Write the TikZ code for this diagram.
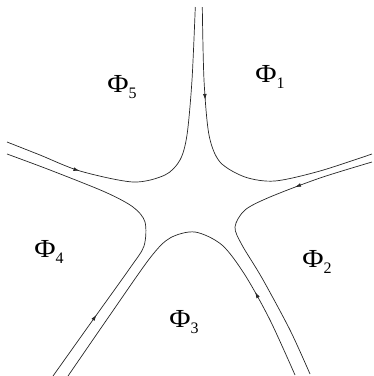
\documentclass[tikz,border=0pt]{standalone}
\usepackage{fontspec}
\setmainfont{Liberation Serif}
\usetikzlibrary{arrows.meta,decorations.markings}

\tikzset{
  flow/.style={line width=0.7pt, draw=black!85},
  arrowat/.style={postaction={decorate},
    decoration={markings, mark=at position #1 with {\arrow{Latex[length=6pt,width=3.8pt]}}}},
  region/.style={font=\fontsize{26}{30}\selectfont, inner sep=0pt}
}
\newcommand{\fieldlabel}[1]{\scalebox{1.12}[1]{Φ}\raisebox{-0.22em}{\fontsize{16}{16}\selectfont #1}}

\begin{document}
\begin{tikzpicture}[x=1pt, y=-1pt]
  \useasboundingbox (0,0) rectangle (374,376);

  % Curve between top arm and upper-right arm
  \draw[flow, arrowat=93pt] plot[smooth] coordinates {
    (202.3,7) (204,80) (209,135) (220,162) (245,177) (275,181)
    (320,171) (372,154)};

  % Curve between upper-right arm and lower-right arm
  \draw[flow, arrowat=81pt] plot[smooth] coordinates {
    (372,162) (320,178) (270,197) (245,210) (235,227) (242,245)
    (262,278) (290,330) (310,374)};

  % Curve between lower-right arm and lower-left arm
  \draw[flow, arrowat=92pt] plot[smooth] coordinates {
    (295,375) (270,320) (245,275) (222,245) (195,232) (170,238)
    (150,258) (110,315) (68,376)};

  % Curve between lower-left arm and upper-left arm
  \draw[flow, arrowat=75pt] plot[smooth] coordinates {
    (53,376) (95,317) (130,268) (144,246) (145,222) (133,207)
    (105,192) (50,170) (7,154)};

  % Curve between upper-left arm and top arm
  \draw[flow, arrowat=78pt] plot[smooth] coordinates {
    (7,142) (40,155) (80,171) (133,182) (165,175) (180,160)
    (187,135) (192,80) (195.3,7)};

  % Region labels
  \node[region] (phi1) at (270,77) {\fieldlabel{1}};
  \node[region] (phi2) at (317,262) {\fieldlabel{2}};
  \node[region] (phi3) at (184,322) {\fieldlabel{3}};
  \node[region] (phi4) at (49,252) {\fieldlabel{4}};
  \node[region] (phi5) at (122,87) {\fieldlabel{5}};
\end{tikzpicture}
\end{document}
